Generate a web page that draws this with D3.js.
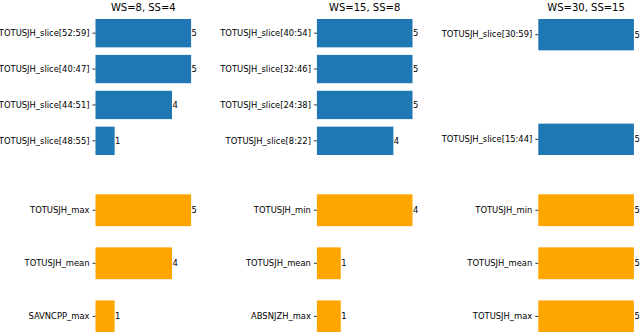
<!DOCTYPE html>
<html>
<head>
<meta charset="utf-8">
<script src="https://cdn.jsdelivr.net/npm/d3@7"></script>
<style>
  body { margin: 0; background: #fff; }
  text { font-family: "DejaVu Sans", sans-serif; fill: #000; }
</style>
</head>
<body>
<div id="chart"></div>
<script>
var titles = ['WS=8, SS=4', 'WS=15, SS=8', 'WS=30, SS=15']

var sliceNames = [
  ['TOTUSJH_slice[52:59]', 'TOTUSJH_slice[40:47]', 'TOTUSJH_slice[44:51]', 'TOTUSJH_slice[48:55]'],
  ['TOTUSJH_slice[40:54]', 'TOTUSJH_slice[32:46]', 'TOTUSJH_slice[24:38]', 'TOTUSJH_slice[8:22]'],
  ['TOTUSJH_slice[30:59]', 'TOTUSJH_slice[15:44]']
]
var sliceCounts = [
  [5, 5, 4, 1],
  [5, 5, 5, 4],
  [5, 5]
]

var featureNames = [
  ['TOTUSJH_max', 'TOTUSJH_mean', 'SAVNCPP_max'],
  ['TOTUSJH_min', 'TOTUSJH_mean', 'ABSNJZH_max'],
  ['TOTUSJH_min', 'TOTUSJH_mean', 'TOTUSJH_max']
]
var featureCounts = [
  [5, 4, 1],
  [4, 1, 1],
  [5, 5, 5]
]

var width = 640
var height = 332
var left0 = 95.5
var col_step = 221.4
var plot_w = 95.6
var tick_len = 3
var tick_pad = 3
var fs = 8.4

var svg = d3.select('#chart')
  .append('svg')
  .attr('width', width)
  .attr('height', height)

function drawPanel(g, names, counts, y0, y1, pad, color) {
  var x = d3.scaleLinear()
    .domain([0, d3.max(counts)])
    .range([0, plot_w])
  var y = d3.scaleBand()
    .domain(names)
    .range([y0, y1])
    .paddingInner(pad)
    .paddingOuter(0)

  var rows = names.map(function(n, i) { return { name: n, value: counts[i] } })

  g.selectAll('rect')
    .data(rows)
    .enter().append('rect')
      .attr('x', x(0))
      .attr('y', function(d) { return y(d.name) })
      .attr('width', function(d) { return x(d.value) - x(0) })
      .attr('height', y.bandwidth())
      .attr('fill', color)

  g.selectAll('text.val')
    .data(rows)
    .enter().append('text')
      .attr('class', 'val')
      .attr('x', function(d) { return x(d.value) + 0.5 })
      .attr('y', function(d) { return y(d.name) + y.bandwidth() / 2 })
      .attr('dy', '0.35em')
      .style('font-size', fs + 'px')
      .text(function(d) { return d.value })

  var axis = d3.axisLeft(y)
    .tickSizeInner(tick_len)
    .tickSizeOuter(0)
    .tickPadding(tick_pad)
  var ax = g.append('g').call(axis)
  ax.select('.domain').remove()
  ax.selectAll('line').attr('stroke', '#000').attr('stroke-width', 0.8)
  ax.selectAll('text')
    .style('font-size', fs + 'px')
    .style('font-family', '"DejaVu Sans", sans-serif')
    .attr('fill', '#000')
}

var slicePad = [0.21, 0.21, 0.7]

titles.forEach(function(t, i) {
  var g = svg.append('g')
    .attr('transform', 'translate(' + (left0 + i * col_step) + ',0)')
  g.append('text')
    .attr('x', plot_w / 2)
    .attr('y', 10.5)
    .attr('text-anchor', 'middle')
    .style('font-size', '10px')
    .text(t)
  drawPanel(g.append('g'), sliceNames[i], sliceCounts[i], 19, 155, slicePad[i], '#1f77b4')
  drawPanel(g.append('g'), featureNames[i], featureCounts[i], 194.3, 332.3, 0.4, '#ffa500')
})
</script>
</body>
</html>
